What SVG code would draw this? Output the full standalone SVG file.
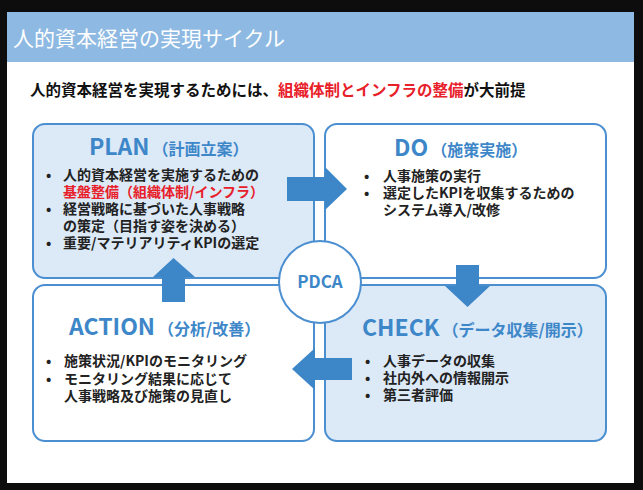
<svg xmlns="http://www.w3.org/2000/svg" width="643" height="490" viewBox="0 0 643 490">
<style>
text{font-family:"Noto Sans CJK JP","Noto Sans",sans-serif}
.box{stroke:#4b8fd1;stroke-width:2}
.light{fill:#dce9f7}
.white{fill:#ffffff}
.ttl{fill:#3d87c9;font-weight:bold;font-size:23px}
.sub{font-size:16px}
.body{font-size:14px;font-weight:bold;fill:#222}
.red{fill:#e8202a}
.arrow{fill:#3d87c9}
</style>
<rect x="0" y="0" width="643" height="490" fill="#0d0d0d"/>
<rect x="7" y="12" width="627" height="471" fill="#ffffff"/>
<rect x="7" y="12" width="627" height="50" fill="#8db9e2"/>
<text x="13" y="46" font-size="21" fill="#ffffff">人的資本経営の実現サイクル</text>
<text x="30" y="96" font-size="15.5" font-weight="bold" fill="#111">人的資本経営を実現するためには、<tspan class="red">組織体制とインフラの整備</tspan>が大前提</text>

<g id="plan">
<rect class="box light" x="33" y="124" width="281" height="154" rx="12"/>
<text x="89" y="155" class="ttl">PLAN<tspan class="sub" dx="3">（計画立案）</tspan></text>
<text class="body"><tspan x="46" y="180">•</tspan><tspan x="63" y="180">人的資本経営を実施するための</tspan><tspan x="63" y="197" class="red">基盤整備（組織体制/インフラ）</tspan><tspan x="46" y="214">•</tspan><tspan x="63" y="214">経営戦略に基づいた人事戦略</tspan><tspan x="63" y="231">の策定（目指す姿を決める）</tspan><tspan x="46" y="248">•</tspan><tspan x="63" y="248">重要/マテリアリティKPIの選定</tspan></text>
</g>

<g id="do">
<rect class="box white" x="325" y="124" width="281" height="154" rx="12"/>
<text x="394" y="156" class="ttl">DO<tspan class="sub" dx="3">（施策実施）</tspan></text>
<text class="body"><tspan x="364" y="181">•</tspan><tspan x="383" y="181">人事施策の実行</tspan><tspan x="364" y="198">•</tspan><tspan x="383" y="198">選定したKPIを収集するための</tspan><tspan x="383" y="215">システム導入/改修</tspan></text>
</g>

<g id="action">
<rect class="box white" x="33" y="285" width="281" height="156" rx="12"/>
<text x="69" y="335" class="ttl">ACTION<tspan class="sub" dx="3">（分析/改善）</tspan></text>
<text class="body"><tspan x="46" y="366">•</tspan><tspan x="64" y="366">施策状況/KPIのモニタリング</tspan><tspan x="46" y="384">•</tspan><tspan x="64" y="384">モニタリング結果に応じて</tspan><tspan x="64" y="401">人事戦略及び施策の見直し</tspan></text>
</g>

<g id="check">
<rect class="box light" x="325" y="285" width="281" height="156" rx="12"/>
<text x="362" y="336" class="ttl">CHECK<tspan class="sub" dx="3">（データ収集/開示）</tspan></text>
<text class="body"><tspan x="365" y="366">•</tspan><tspan x="383" y="366">人事データの収集</tspan><tspan x="365" y="383">•</tspan><tspan x="383" y="383">社内外への情報開示</tspan><tspan x="365" y="400">•</tspan><tspan x="383" y="400">第三者評価</tspan></text>
</g>

<g id="connectors">
<polygon class="arrow" points="287,177 325,177 325,167 347,189 325,210 325,201 287,201"/>
<polygon class="arrow" points="456,265 479,265 479,286 490,286 467.5,307 445,286 456,286"/>
<polygon class="arrow" points="352,358 352,380 315,380 315,390 292,369 315,348 315,358"/>
<polygon class="arrow" points="162,302 185,302 185,277 195,277 173.5,258 153,277 162,277"/>
</g>

<g id="pdca">
<circle cx="320" cy="282" r="41" fill="#ffffff" stroke="#4b8fd1" stroke-width="2"/>
<text x="320" y="288" text-anchor="middle" font-size="17" font-weight="bold" fill="#3d87c9">PDCA</text>
</g>
</svg>
